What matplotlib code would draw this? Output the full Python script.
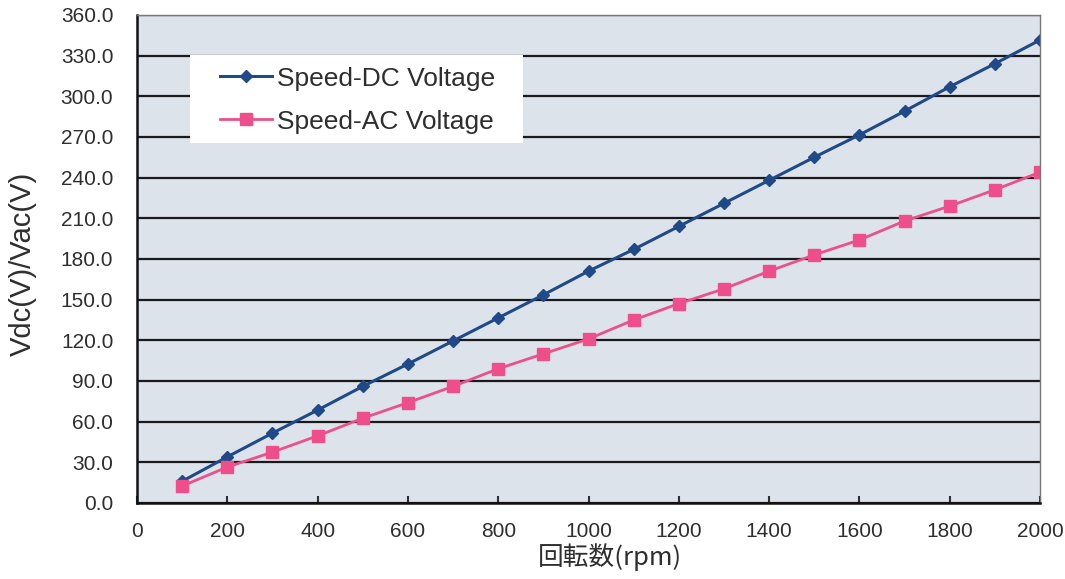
import numpy as np
import matplotlib.pyplot as plt
from matplotlib.patches import Rectangle
from matplotlib.ticker import MultipleLocator, FormatStrFormatter

# data
rpm = [100, 200, 300, 400, 500, 600, 700, 800, 900, 1000,
       1100, 1200, 1300, 1400, 1500, 1600, 1700, 1800, 1900, 2000]
vdc = [16, 34, 51.5, 68.5, 86, 102.5, 119.5, 136.5, 153.5, 171,
       187, 204, 221, 238, 255, 271.5, 289, 307, 324, 341.5]
vac = [12.5, 26.5, 37.5, 49.5, 62.5, 74, 86, 99, 110, 121,
       135, 147, 158, 171, 183, 194, 208, 219, 231, 244]

plt.rcParams["font.family"] = ["Liberation Sans", "DejaVu Sans"]
txt = "#2e2e2e"

fig = plt.figure(figsize=(10.65, 5.79), dpi=100)
ax = fig.add_axes([0.1286, 0.1313, 0.848, 0.843])
ax.set_facecolor("#dde3eb")

ax.plot(rpm, vdc, color="#1f4a87", marker="D", markersize=6.5, lw=2.2,
        label="Speed-DC Voltage")
ax.plot(rpm, vac, color="#ee4f8a", marker="s", markersize=8, lw=2.0,
        label="Speed-AC Voltage")

ax.set_xlim(0, 2000)
ax.set_ylim(0, 360)
ax.xaxis.set_major_locator(MultipleLocator(200))
ax.yaxis.set_major_locator(MultipleLocator(30))
ax.yaxis.set_major_formatter(FormatStrFormatter("%.1f"))
ax.grid(axis="y", color="#1a1a1a", lw=1.6)
ax.set_axisbelow(True)
ax.tick_params(axis="x", direction="in", length=5, width=1.5,
               labelsize=15, pad=14, colors=txt)
ax.tick_params(axis="y", length=0, labelsize=15, pad=17, colors=txt)

for s in ["left", "bottom"]:
    ax.spines[s].set_color("#111111")
    ax.spines[s].set_linewidth(1.8)
for s in ["top", "right"]:
    ax.spines[s].set_color("#777777")
    ax.spines[s].set_linewidth(1.0)

ax.set_xlabel("回転数(rpm)", family=["Noto Sans CJK JP", "DejaVu Sans"],
              fontsize=18.5, color=txt)
ax.xaxis.set_label_coords(0.524, -0.083)
ax.set_ylabel("Vdc(V)/Vac(V)", fontsize=21, color=txt)
ax.yaxis.set_label_coords(-0.111, 0.49)

# white legend panel
ax.add_patch(Rectangle((0.0587, 0.738), 0.369, 0.18, transform=ax.transAxes,
                       facecolor="white", edgecolor="none", zorder=4))
leg = ax.legend(loc="upper left", bbox_to_anchor=(0.092, 0.894),
                fontsize=19, frameon=False,
                handlelength=1.97, borderpad=0, labelspacing=0.72,
                handletextpad=0.2, borderaxespad=0)
leg.set_zorder(5)
for t in leg.get_texts():
    t.set_color(txt)

fig.savefig("out.png", dpi=100)
